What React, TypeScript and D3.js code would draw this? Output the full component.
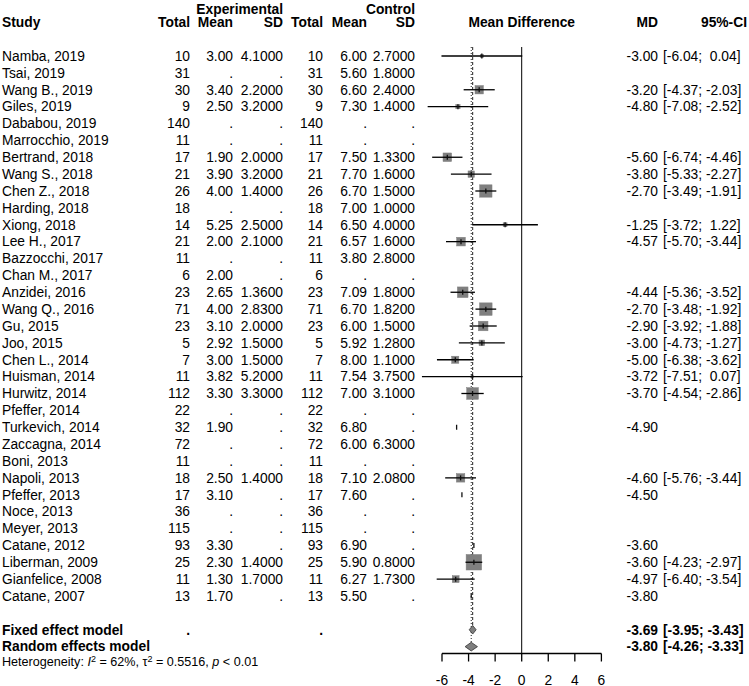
import React from "react";
import * as d3 from "d3";

const studies = [
  "Namba, 2019", "Tsai, 2019", "Wang B., 2019", "Giles, 2019", "Dababou, 2019", "Marrocchio, 2019",
  "Bertrand, 2018", "Wang S., 2018", "Chen Z., 2018", "Harding, 2018", "Xiong, 2018", "Lee H., 2017",
  "Bazzocchi, 2017", "Chan M., 2017", "Anzidei, 2016", "Wang Q., 2016", "Gu, 2015", "Joo, 2015",
  "Chen L., 2014", "Huisman, 2014", "Hurwitz, 2014", "Pfeffer, 2014", "Turkevich, 2014", "Zaccagna, 2014",
  "Boni, 2013", "Napoli, 2013", "Pfeffer, 2013", "Noce, 2013", "Meyer, 2013", "Catane, 2012",
  "Liberman, 2009", "Gianfelice, 2008", "Catane, 2007",
];
const expTotal = [10, 31, 30, 9, 140, 11, 17, 21, 26, 18, 14, 21, 11, 6, 23, 71, 23, 5, 7, 11, 112, 22, 32, 72, 11, 18, 17, 36, 115, 93, 25, 11, 13];
const expMean = [3.0, null, 3.4, 2.5, null, null, 1.9, 3.9, 4.0, null, 5.25, 2.0, null, 2.0, 2.65, 4.0, 3.1, 2.92, 3.0, 3.82, 3.3, null, 1.9, null, null, 2.5, 3.1, null, null, 3.3, 2.3, 1.3, 1.7];
const expSD = [4.1, null, 2.2, 3.2, null, null, 2.0, 3.2, 1.4, null, 2.5, 2.1, null, null, 1.36, 2.83, 2.0, 1.5, 1.5, 5.2, 3.3, null, null, null, null, 1.4, null, null, null, null, 1.4, 1.7, null];
const ctlTotal = [10, 31, 30, 9, 140, 11, 17, 21, 26, 18, 14, 21, 11, 6, 23, 71, 23, 5, 7, 11, 112, 22, 32, 72, 11, 18, 17, 36, 115, 93, 25, 11, 13];
const ctlMean = [6.0, 5.6, 6.6, 7.3, null, null, 7.5, 7.7, 6.7, 7.0, 6.5, 6.57, 3.8, null, 7.09, 6.7, 6.0, 5.92, 8.0, 7.54, 7.0, null, 6.8, 6.0, null, 7.1, 7.6, null, null, 6.9, 5.9, 6.27, 5.5];
const ctlSD = [2.7, 1.8, 2.4, 1.4, null, null, 1.33, 1.6, 1.5, 1.0, 4.0, 1.6, 2.8, null, 1.8, 1.82, 1.5, 1.28, 1.1, 3.75, 3.1, null, null, 6.3, null, 2.08, null, null, null, null, 0.8, 1.73, null];
const md = [-3.0, null, -3.2, -4.8, null, null, -5.6, -3.8, -2.7, null, -1.25, -4.57, null, null, -4.44, -2.7, -2.9, -3.0, -5.0, -3.72, -3.7, null, -4.9, null, null, -4.6, -4.5, null, null, -3.6, -3.6, -4.97, -3.8];
const ciLower = [-6.04, null, -4.37, -7.08, null, null, -6.74, -5.33, -3.49, null, -3.72, -5.7, null, null, -5.36, -3.48, -3.92, -4.73, -6.38, -7.51, -4.54, null, null, null, null, -5.76, null, null, null, null, -4.23, -6.4, null];
const ciUpper = [0.04, null, -2.03, -2.52, null, null, -4.46, -2.27, -1.91, null, 1.22, -3.44, null, null, -3.52, -1.92, -1.88, -1.27, -3.62, 0.07, -2.86, null, null, null, null, -3.44, null, null, null, null, -2.97, -3.54, null];

const summaryLabels = ["Fixed effect model", "Random effects model"];
const summaryMD = [-3.69, -3.8];
const summaryLower = [-3.95, -4.26];
const summaryUpper = [-3.43, -3.33];
const axisTicks = [-6, -4, -2, 0, 2, 4, 6];

const FONT = "'Liberation Sans', Arial, Helvetica, sans-serif";

const locale = d3.formatLocale({ decimal: ".", thousands: ",", grouping: [3], currency: ["", ""], minus: "-" });
const f2 = locale.format(".2f");
const f4 = locale.format(".4f");
const fmt = (v: number | null, f: (n: number) => string) => (v == null ? "." : f(v));

export default function App() {
  const W = 749;
  const H = 686;
  const x = d3.scaleLinear().domain([-6, 6]).range([442, 601.4]);
  const y = d3.scaleLinear().domain([0, studies.length - 1]).range([56, 596]);
  const fixedY = y(studies.length + 1);
  const randomY = y(studies.length + 2);
  const hetY = y(studies.length + 3) - 1.5;
  const headY = y(-2);
  const groupY = y(-2.8);
  const axisY = 653.5;

  const weights = ciLower.map((lo, i) => {
    const hi = ciUpper[i];
    if (lo == null || hi == null) return 0;
    const se = (hi - lo) / (2 * 1.959964);
    return 1 / (se * se);
  });
  const maxW = d3.max(weights) as number;
  const size = d3.scaleSqrt().domain([0, maxW]).range([0, 15.5]);

  const allLo = [...ciLower, ...summaryLower].filter((v) => v != null).map((v) => f2(v as number));
  const allHi = [...ciUpper, ...summaryUpper].filter((v) => v != null).map((v) => f2(v as number));
  const loW = d3.max(allLo, (s) => s.length) as number;
  const hiW = d3.max(allHi, (s) => s.length) as number;
  const ciText = (lo: number, hi: number) => `[${f2(lo).padStart(loW, " ")}; ${f2(hi).padStart(hiW, " ")}]`;

  const cols = [
    { x: 190, vals: expTotal.map((v) => String(v)) },
    { x: 233, vals: expMean.map((v) => fmt(v, f2)) },
    { x: 283, vals: expSD.map((v) => fmt(v, f4)) },
    { x: 323, vals: ctlTotal.map((v) => String(v)) },
    { x: 367, vals: ctlMean.map((v) => fmt(v, f2)) },
    { x: 415, vals: ctlSD.map((v) => fmt(v, f4)) },
  ];
  const headers = [
    { x: 190, t: "Total" },
    { x: 233, t: "Mean" },
    { x: 283, t: "SD" },
    { x: 323, t: "Total" },
    { x: 367, t: "Mean" },
    { x: 415, t: "SD" },
  ];
  const mdX = 658;
  const ciX = 663;
  const topY = y(0) - 9;
  const dy = 4.8;

  const diamond = (m: number, lo: number, hi: number, cy: number) => {
    const h = 4.3;
    return `M${x(lo)},${cy} L${x(m)},${cy - h} L${x(hi)},${cy} L${x(m)},${cy + h} Z`;
  };

  return (
    <svg
      width={W}
      height={H}
      style={{ position: "absolute", left: 0, top: 0, background: "#fff" }}
      fontFamily={FONT}
      fontSize={13.8}
    >
      <rect width={W} height={H} fill="#fff" />
      <g fontWeight="bold">
        <text x={283} y={groupY + dy} textAnchor="end">Experimental</text>
        <text x={415} y={groupY + dy} textAnchor="end">Control</text>
        <text x={2} y={headY + dy}>Study</text>
        {headers.map((h, i) => (
          <text key={i} x={h.x} y={headY + dy} textAnchor="end">{h.t}</text>
        ))}
        <text x={x(0)} y={headY + dy} textAnchor="middle">Mean Difference</text>
        <text x={mdX} y={headY + dy} textAnchor="end">MD</text>
        <text x={747} y={headY + dy} textAnchor="end">95%-CI</text>
      </g>

      {studies.map((s, i) => (
        <g key={s}>
          <text x={2} y={y(i) + dy}>{s}</text>
          {cols.map((c, j) => (
            <text key={j} x={c.x} y={y(i) + dy} textAnchor="end">{c.vals[i]}</text>
          ))}
          {md[i] != null && (
            <text x={mdX} y={y(i) + dy} textAnchor="end">{f2(md[i] as number)}</text>
          )}
          {ciLower[i] != null && (
            <text x={ciX} y={y(i) + dy} xmlSpace="preserve" style={{ whiteSpace: "pre" }}>
              {ciText(ciLower[i] as number, ciUpper[i] as number)}
            </text>
          )}
        </g>
      ))}

      {summaryLabels.map((l, k) => {
        const cy = k === 0 ? fixedY : randomY;
        return (
          <g key={l} fontWeight="bold">
            <text x={2} y={cy + dy}>{l}</text>
            {k === 0 && (
              <>
                <text x={190} y={cy + dy} textAnchor="end">.</text>
                <text x={323} y={cy + dy} textAnchor="end">.</text>
              </>
            )}
            <text x={mdX} y={cy + dy} textAnchor="end">{f2(summaryMD[k])}</text>
            <text x={ciX} y={cy + dy} xmlSpace="preserve" style={{ whiteSpace: "pre" }}>
              {ciText(summaryLower[k], summaryUpper[k])}
            </text>
          </g>
        );
      })}

      <text x={2} y={hetY + 4.4} fontSize={12.6}>
        Heterogeneity: <tspan fontStyle="italic">I</tspan>
        <tspan dy={-4.5} fontSize={9}>2</tspan>
        <tspan dy={4.5}> = 62%, τ</tspan>
        <tspan dy={-4.5} fontSize={9}>2</tspan>
        <tspan dy={4.5}> = 0.5516, </tspan>
        <tspan fontStyle="italic">p</tspan>
        <tspan> &lt; 0.01</tspan>
      </text>

      <line x1={x(0)} x2={x(0)} y1={topY} y2={axisY} stroke="#000" strokeWidth={1} />
      <line x1={x(summaryMD[0])} x2={x(summaryMD[0])} y1={topY} y2={fixedY} stroke="#222" strokeWidth={1} strokeDasharray="3,2" />
      <line x1={x(summaryMD[1])} x2={x(summaryMD[1])} y1={topY} y2={randomY} stroke="#222" strokeWidth={1} strokeDasharray="1,2" />

      {studies.map((s, i) => {
        if (md[i] == null) return null;
        const cx = x(md[i] as number);
        const cy = y(i);
        const lo = ciLower[i];
        const hi = ciUpper[i];
        const sz = size(weights[i]);
        return (
          <g key={"m" + s}>
            {sz > 0 && (
              <rect x={cx - sz / 2} y={cy - sz / 2} width={sz} height={sz} fill="#7f7f7f" stroke="#7f7f7f" strokeWidth={0.5} />
            )}
            {lo != null && hi != null && (
              <line x1={x(lo)} x2={x(hi)} y1={cy} y2={cy} stroke="#000" strokeWidth={1.3} />
            )}
            <line x1={cx} x2={cx} y1={cy - 2.5} y2={cy + 2.5} stroke="#111" strokeWidth={1.3} />
          </g>
        );
      })}

      <path d={diamond(summaryMD[0], summaryLower[0], summaryUpper[0], fixedY)} fill="#7f7f7f" stroke="#333" strokeWidth={0.8} />
      <path d={diamond(summaryMD[1], summaryLower[1], summaryUpper[1], randomY)} fill="#7f7f7f" stroke="#333" strokeWidth={0.8} />

      <line x1={x(axisTicks[0])} x2={x(axisTicks[axisTicks.length - 1])} y1={axisY} y2={axisY} stroke="#000" strokeWidth={1.3} />
      {axisTicks.map((t) => (
        <g key={t}>
          <line x1={x(t)} x2={x(t)} y1={axisY} y2={axisY + 8} stroke="#000" strokeWidth={1.3} />
          <text x={x(t)} y={axisY + 31} textAnchor="middle">{String(t)}</text>
        </g>
      ))}
    </svg>
  );
}
